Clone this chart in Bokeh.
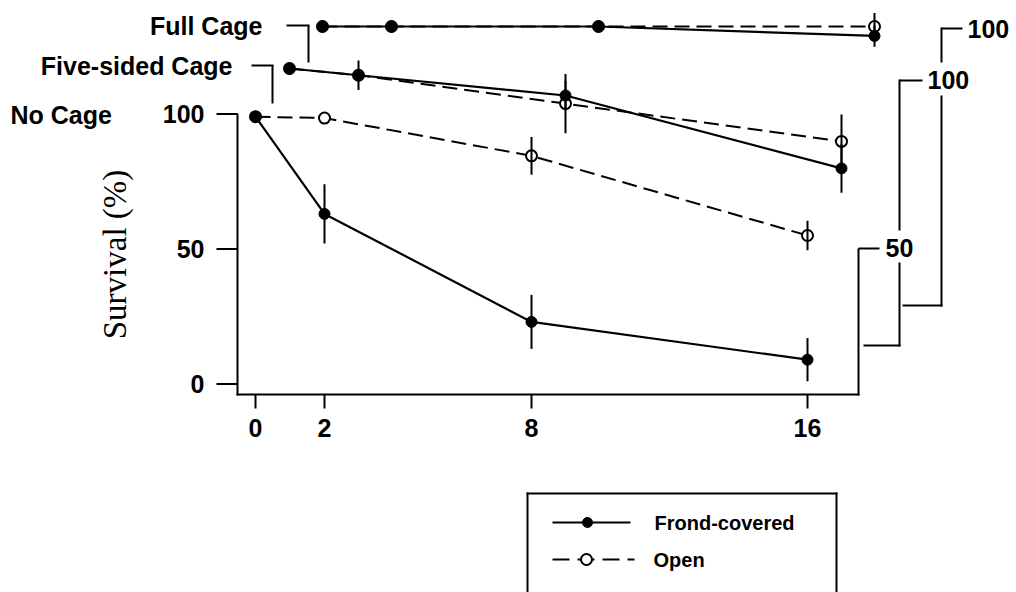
import math
from bokeh.plotting import figure
from bokeh.models import Range1d
from bokeh.embed import file_html
from bokeh.resources import INLINE
from bokeh.core.properties import value

W, H = 1016, 592

# ---- data: survival (%) after 0, 2, 8 and 16 weeks ----
weeks = [0, 2, 8, 16]
week_labels = ["0", "2", "8", "16"]
survival_ticks = [0, 50, 100]
survival_tick_labels = ["0", "50", "100"]

no_cage_frond = [99, 63, 23, 9]
no_cage_frond_se = [0, 11, 10, 8]
no_cage_open = [99, 98.5, 84.5, 55]
no_cage_open_se = [0, 0, 7, 5.5]

five_frond = [100, 97.5, 90, 63]
five_frond_se = [0, 5.5, 5.5, 9]
five_open = [100, 97.5, 87, 73]
five_open_se = [0, 0, 11, 10]

full_frond = [100, 100, 100, 96.5]
full_frond_se = [0, 0, 0, 4]
full_open = [100, 100, 100, 100]
full_open_se = [0, 0, 0, 5]

panel_names = ["No Cage", "Five-sided Cage", "Full Cage"]

# ---- layout: each cage panel is a staggered copy of the same scale ----
PX_PER_WEEK = 34.5
PX_PER_PCT = 2.7
# pixel position of (week 0, 100 %) for each panel
panel_origin = {
    "nocage": (255, 113.5),
    "five": (289, 68),
    "full": (322, 26),
}

FONT = value("Liberation Sans")
SERIF = value("Liberation Serif")
INK = "black"

p = figure(width=W, height=H, output_backend="svg", toolbar_location=None,
           x_range=Range1d(0, W), y_range=Range1d(H, 0),
           x_axis_location=None, y_axis_location=None,
           min_border=0, min_border_left=0, min_border_right=0,
           min_border_top=0, min_border_bottom=0)
p.grid.visible = False
p.outline_line_color = None
p.background_fill_color = "white"
p.border_fill_color = "white"

for key, (x0, y100) in panel_origin.items():
    p.extra_x_ranges[key] = Range1d(-x0 / PX_PER_WEEK, (W - x0) / PX_PER_WEEK)
    p.extra_y_ranges[key] = Range1d(100 - (H - y100) / PX_PER_PCT,
                                    100 + y100 / PX_PER_PCT)

series = [
    ("full", full_frond, full_frond_se, full_open, full_open_se),
    ("five", five_frond, five_frond_se, five_open, five_open_se),
    ("nocage", no_cage_frond, no_cage_frond_se, no_cage_open, no_cage_open_se),
]

DASH = "15 7"

# connecting lines
for key, fr, fr_se, op, op_se in series:
    p.line(weeks, op, x_range_name=key, y_range_name=key,
           line_color=INK, line_width=2, line_dash=DASH)
    p.line(weeks, fr, x_range_name=key, y_range_name=key,
           line_color=INK, line_width=2.2)

# markers and standard-error bars
for key, fr, fr_se, op, op_se in series:
    p.scatter(weeks, op, x_range_name=key, y_range_name=key, marker="circle",
              size=11, fill_color="white", line_color=INK, line_width=2)
    p.scatter(weeks, fr, x_range_name=key, y_range_name=key, marker="circle",
              size=11, fill_color=INK, line_color=INK)
    for ys, se in ((fr, fr_se), (op, op_se)):
        xs = [w for w, e in zip(weeks, se) if e > 0]
        lo = [y - e for y, e in zip(ys, se) if e > 0]
        hi = [y + e for y, e in zip(ys, se) if e > 0]
        p.segment(x0=xs, y0=lo, x1=xs, y1=hi, x_range_name=key, y_range_name=key,
                  line_color=INK, line_width=2)

# ---- axis frames drawn as open brackets ----
frame_x0, frame_y0, frame_x1, frame_y1 = [], [], [], []
def seg(a, b, c, d):
    frame_x0.append(a); frame_y0.append(b); frame_x1.append(c); frame_y1.append(d)

# No Cage: left axis, bottom axis, short right axis
seg(237, 113, 237, 395)
seg(236, 394, 859, 394)
seg(858, 395, 858, 248)
seg(858, 248, 879, 248)
# Five-sided Cage brackets
seg(251, 65, 273, 65)
seg(272, 65, 272, 103)
seg(899, 80, 922, 80)
seg(899, 79, 899, 230)
seg(899, 262, 899, 346)
seg(863, 345, 900, 345)
# Full Cage brackets
seg(286, 25, 309, 25)
seg(308, 25, 308, 62)
seg(941, 28, 962, 28)
seg(941, 27, 941, 62)
seg(941, 95, 941, 306)
seg(902, 305, 942, 305)
# legend box
seg(526, 493, 837, 493)
seg(527, 492, 527, 600)
seg(836, 492, 836, 600)

p.segment(x0=frame_x0, y0=frame_y0, x1=frame_x1, y1=frame_y1,
          line_color=INK, line_width=2)

# y ticks of the No Cage panel
p.segment(x0=[216] * 3, y0=survival_ticks, x1=[237] * 3, y1=survival_ticks,
          y_range_name="nocage", line_color=INK, line_width=2)
p.text(x=[204] * 3, y=survival_ticks, text=survival_tick_labels,
       y_range_name="nocage", text_font=FONT, text_font_style="bold",
       text_font_size="25px", text_align="right", text_baseline="middle",
       text_color=INK)

# x ticks
p.segment(x0=weeks, y0=[394] * 4, x1=weeks, y1=[408] * 4,
          x_range_name="nocage", line_color=INK, line_width=2)
p.text(x=weeks, y=[427] * 4, text=week_labels, x_range_name="nocage",
       text_font=FONT, text_font_style="bold", text_font_size="25px",
       text_align="center", text_baseline="middle", text_color=INK)

# panel names
p.text(x=[10, 232, 262], y=[114, 65, 25], text=panel_names,
       text_font=FONT, text_font_style="bold", text_font_size="25px",
       text_align=["left", "right", "right"], text_baseline="middle",
       text_color=INK)

# right-hand bracket labels
p.text(x=[885, 927, 967], y=[247, 79, 28], text=["50", "100", "100"],
       text_font=FONT, text_font_style="bold", text_font_size="25px",
       text_align="left", text_baseline="middle", text_color=INK)

# y axis title
p.text(x=[114], y=[254], text=["Survival (%)"], angle=math.pi / 2,
       text_font=SERIF, text_font_size="33px", text_align="center",
       text_baseline="middle", text_color=INK)

# legend
p.line([552, 630], [522, 522], line_color=INK, line_width=2)
p.scatter([587], [522], marker="circle", size=10, fill_color=INK, line_color=INK)
p.line([552, 634], [559, 559], line_color=INK, line_width=2, line_dash="17 8")
p.scatter([586], [559], marker="circle", size=11, fill_color="white",
          line_color=INK, line_width=2)
p.text(x=[654, 653], y=[522, 559], text=["Frond-covered", "Open"],
       text_font=FONT, text_font_style="bold", text_font_size="20px",
       text_align="left", text_baseline="middle", text_color=INK)

open("out.html", "w").write(file_html(p, INLINE))
